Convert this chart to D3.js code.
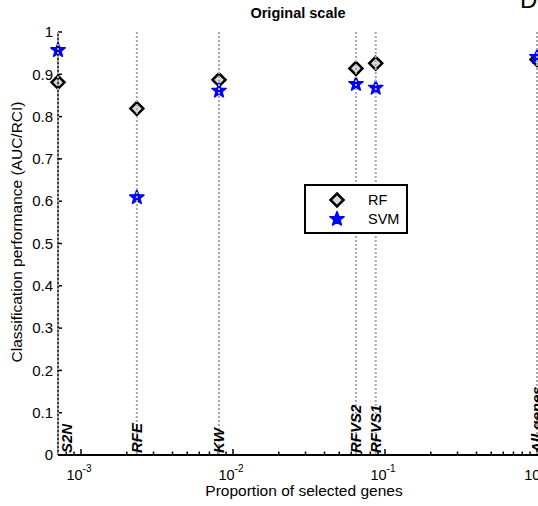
<!DOCTYPE html>
<html>
<head>
<meta charset="utf-8">
<script src="https://cdn.jsdelivr.net/npm/d3@7"></script>
<style>
  html, body { margin: 0; padding: 0; background: #fff; }
  svg { display: block; font-family: "Liberation Sans", Arial, sans-serif; }
</style>
</head>
<body>
<svg id="chart" width="538" height="506"></svg>
<script>
// ---- data ----
const methods    = ["S2N", "RFE", "KW", "RFVS2", "RFVS1", "All genes"];
const proportion = [7.06e-4, 2.33e-3, 8.09e-3, 0.0644, 0.0869, 1.0];
const rfValues   = [0.881, 0.819, 0.887, 0.914, 0.926, 0.935];
const svmValues  = [0.957, 0.609, 0.861, 0.877, 0.868, 0.941];
const seriesNames = ["RF", "SVM"];
const yTickValues = [0, 0.1, 0.2, 0.3, 0.4, 0.5, 0.6, 0.7, 0.8, 0.9, 1];
const yTickLabels = ["0", "0.1", "0.2", "0.3", "0.4", "0.5", "0.6", "0.7", "0.8", "0.9", "1"];
const xTickExps   = [-3, -2, -1, 0];
const xDomain     = [7.06e-4, 2];

// ---- layout ----
const svg = d3.select("#chart");
const x = d3.scaleLog().domain([1e-3, 1]).range([81, 537]);
const y = d3.scaleLinear().domain([0, 1]).range([455, 32]);
const xAxisScale = d3.scaleLog().domain(xDomain).range([x(xDomain[0]), x(xDomain[1])]);

const gray = "#a6a6a6";

// title
svg.append("text").attr("x", 298).attr("y", 18).attr("text-anchor", "middle")
  .attr("font-size", 14.5).attr("font-weight", "bold").text("Original scale");

// panel letter of neighbouring plot
svg.append("text").attr("x", 520).attr("y", 8).attr("font-size", 24).text("D");

// markers (drawn under the dotted lines)
function diamondPath(r) { return `M0,${-r}L${r},0L0,${r}L${-r},0Z`; }
function starPath(R) {
  const r = R * 0.42; let p = "";
  for (let i = 0; i < 10; i++) {
    const a = -Math.PI / 2 + i * Math.PI / 5;
    const rr = i % 2 === 0 ? R : r;
    p += (i === 0 ? "M" : "L") + (rr * Math.cos(a)).toFixed(2) + "," + (rr * Math.sin(a)).toFixed(2);
  }
  return p + "Z";
}

const pts = methods.map((m, i) => ({ m, p: proportion[i], rf: rfValues[i], svm: svmValues[i] }));

svg.append("g").selectAll("path.rf").data(pts).join("path")
  .attr("class", "rf")
  .attr("transform", d => `translate(${x(d.p)},${y(d.rf)})`)
  .attr("d", diamondPath(6.5))
  .attr("fill", "#d9d9d9").attr("stroke", "#000").attr("stroke-width", 2.5);

svg.append("g").selectAll("path.svm").data(pts).join("path")
  .attr("class", "svm")
  .attr("transform", d => `translate(${x(d.p)},${y(d.svm)})`)
  .attr("d", starPath(7.5))
  .attr("fill", "#0000ff").attr("stroke", "#0000ff").attr("stroke-width", 1.5)
  .attr("stroke-linejoin", "round");

// axes lines
const axisG = svg.append("g");
axisG.append("line").attr("x1", x(xDomain[0])).attr("x2", x(xDomain[0]))
  .attr("y1", y(0)).attr("y2", y(1)).attr("stroke", "#000").attr("stroke-width", 1.5);

// vertical dotted lines for each method
svg.append("g").selectAll("line").data(pts).join("line")
  .attr("x1", d => x(d.p)).attr("x2", d => x(d.p))
  .attr("y1", y(1)).attr("y2", y(0))
  .attr("stroke", gray).attr("stroke-width", 2).attr("stroke-dasharray", "2,2");

// x axis
axisG.append("line").attr("x1", x(xDomain[0])).attr("x2", x(xDomain[1]))
  .attr("y1", y(0)).attr("y2", y(0)).attr("stroke", "#000").attr("stroke-width", 2);
const xt = xAxisScale.ticks();
axisG.selectAll("line.xt").data(xt).join("line").attr("class", "xt")
  .attr("x1", d => x(d)).attr("x2", d => x(d))
  .attr("y1", y(0)).attr("y2", d => y(0) - (Math.abs(Math.log10(d) - Math.round(Math.log10(d))) < 1e-9 ? 6 : 3.5))
  .attr("stroke", "#000").attr("stroke-width", 1.5);

const xl = axisG.selectAll("text.xl").data(xTickExps).join("text").attr("class", "xl")
  .attr("x", d => x(Math.pow(10, d)) - 2).attr("y", 480)
  .attr("text-anchor", "middle").attr("font-size", 14.5);
xl.append("tspan").text("10");
xl.append("tspan").attr("dy", -8).attr("font-size", 10).text(d => String(d).replace("-", "-"));

// y axis ticks
axisG.selectAll("line.yt").data(yTickValues).join("line").attr("class", "yt")
  .attr("x1", x(xDomain[0])).attr("x2", x(xDomain[0]) + 4)
  .attr("y1", d => y(d)).attr("y2", d => y(d))
  .attr("stroke", "#000").attr("stroke-width", 1.5);
axisG.selectAll("text.yl").data(yTickValues).join("text").attr("class", "yl")
  .attr("x", 53).attr("y", d => y(d)).attr("dy", "0.35em")
  .attr("text-anchor", "end").attr("font-size", 15)
  .text((d, i) => yTickLabels[i]);

// method labels
const axLeft = x(xDomain[0]);
svg.append("g").selectAll("text").data(pts).join("text")
  .attr("transform", d => `translate(${Math.max(x(d.p), axLeft + 8.5)},453) rotate(-90)`)
  .attr("dy", "0.35em")
  .attr("font-size", 15).attr("font-weight", "bold").attr("font-style", "italic")
  .text(d => d.m);

// axis labels
svg.append("text").attr("x", 304).attr("y", 496).attr("text-anchor", "middle")
  .attr("font-size", 15.5).text("Proportion of selected genes");
svg.append("text").attr("transform", "translate(22,232) rotate(-90)")
  .attr("text-anchor", "middle").attr("font-size", 15.5)
  .text("Classification performance (AUC/RCI)");

// legend
const lg = svg.append("g");
lg.append("rect").attr("x", 305).attr("y", 185).attr("width", 102).attr("height", 48)
  .attr("fill", "#fff").attr("stroke", "#000").attr("stroke-width", 2);
lg.append("path").attr("transform", "translate(337,200)").attr("d", diamondPath(6.5))
  .attr("fill", "#d9d9d9").attr("stroke", "#000").attr("stroke-width", 2.5);
lg.append("path").attr("transform", "translate(337,219)").attr("d", starPath(7.5))
  .attr("fill", "#0000ff").attr("stroke", "#0000ff").attr("stroke-width", 1.5).attr("stroke-linejoin", "round");
lg.selectAll("text").data(seriesNames).join("text")
  .attr("x", 368).attr("y", (d, i) => 200 + i * 19).attr("dy", "0.35em")
  .attr("font-size", 14.5).text(d => d);
</script>
</body>
</html>
